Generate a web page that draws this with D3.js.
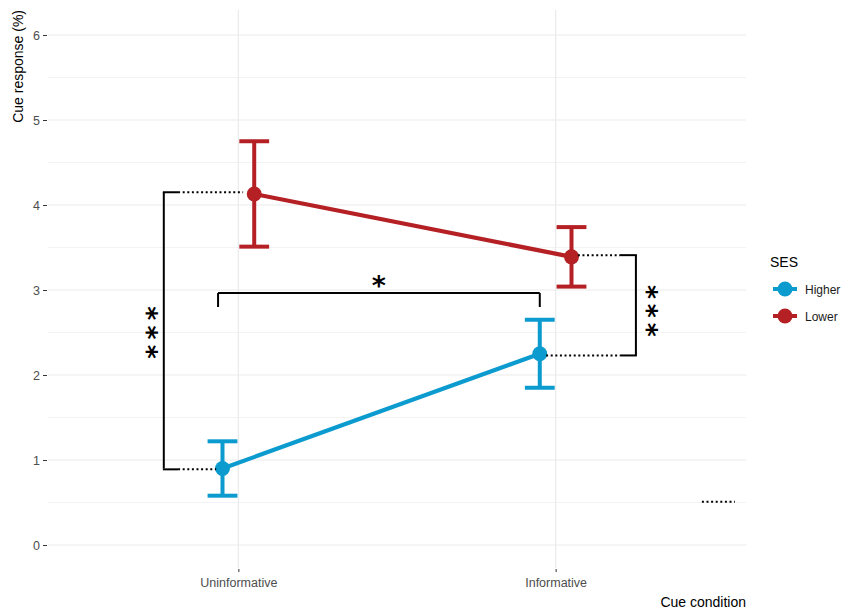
<!DOCTYPE html>
<html>
<head>
<meta charset="utf-8">
<script src="https://cdn.jsdelivr.net/npm/d3@7"></script>
<style>
  body { margin: 0; background: #fff; }
  text { font-family: Arial, "Liberation Sans", sans-serif; }
</style>
</head>
<body>
<svg id="chart" width="845" height="610"></svg>
<script>
// ---- data ----
const categories = ["Uninformative", "Informative"];
const groups = ["Higher", "Lower"];
const higherMean = [0.90, 2.25];
const higherLow  = [0.58, 1.85];
const higherHigh = [1.22, 2.65];
const lowerMean  = [4.13, 3.39];
const lowerLow   = [3.51, 3.04];
const lowerHigh  = [4.75, 3.74];
const yTicks = [0, 1, 2, 3, 4, 5, 6];
const yMinor = [0.5, 1.5, 2.5, 3.5, 4.5, 5.5];
const groupColors = ["#0B9BCF", "#B52025"];

const svg = d3.select("#chart");
const panel = {left: 48, right: 746, top: 10, bottom: 568};

// discrete x with ggplot-like expansion (0.6 each side) → continuous helper
const xc = d3.scaleLinear().domain([0.4, 2.6]).range([panel.left, panel.right]);
const xPos = i => xc(i + 1);
const y = d3.scaleLinear().domain([0, 6]).range([545, 35]);
const dodge = [-0.05, 0.05];

// grid
const g = svg.append("g");
g.selectAll(".minor").data(yMinor).enter().append("line")
  .attr("x1", panel.left).attr("x2", panel.right)
  .attr("y1", d => y(d)).attr("y2", d => y(d))
  .attr("stroke", "#f3f3f3").attr("stroke-width", 1);
g.selectAll(".major").data(yTicks).enter().append("line")
  .attr("x1", panel.left).attr("x2", panel.right)
  .attr("y1", d => y(d)).attr("y2", d => y(d))
  .attr("stroke", "#ebebeb").attr("stroke-width", 1.2);
g.selectAll(".vmajor").data(categories).enter().append("line")
  .attr("x1", (d, i) => xPos(i)).attr("x2", (d, i) => xPos(i))
  .attr("y1", panel.top).attr("y2", panel.bottom)
  .attr("stroke", "#ebebeb").attr("stroke-width", 1.2);

// y axis
const yAxis = d3.axisLeft(y).tickValues(yTicks).tickFormat(d3.format("d")).tickSize(4).tickPadding(3);
const ya = svg.append("g").attr("transform", `translate(${panel.left - 1},0)`).call(yAxis);
ya.select(".domain").remove();
ya.selectAll(".tick line").attr("stroke", "#333").attr("stroke-width", 1);
ya.selectAll(".tick text").attr("fill", "#4d4d4d").style("font-size", "12.5px")
  .style("font-family", "Arial, 'Liberation Sans', sans-serif");

// x axis
const xBand = d3.scalePoint().domain(categories).range([xPos(0), xPos(1)]);
const xAxis = d3.axisBottom(xBand).tickSize(3).tickPadding(6);
const xa = svg.append("g").attr("transform", `translate(0,${panel.bottom + 1})`).call(xAxis);
xa.select(".domain").remove();
xa.selectAll(".tick line").attr("stroke", "#333").attr("stroke-width", 1);
xa.selectAll(".tick text").attr("fill", "#4d4d4d").style("font-size", "12.5px")
  .style("font-family", "Arial, 'Liberation Sans', sans-serif");

// axis titles
svg.append("text").attr("x", panel.right).attr("y", 607).attr("text-anchor", "end")
  .style("font-size", "14px").attr("fill", "#000").text("Cue condition");
svg.append("text").attr("transform", "rotate(-90)").attr("x", -10).attr("y", 23)
  .attr("text-anchor", "end")
  .style("font-size", "14px").attr("fill", "#000").text("Cue response (%)");

// series
const series = [
  {name: groups[0], mean: higherMean, lo: higherLow, hi: higherHigh, color: groupColors[0], dx: dodge[0]},
  {name: groups[1], mean: lowerMean, lo: lowerLow, hi: lowerHigh, color: groupColors[1], dx: dodge[1]}
];
const capHalf = 0.047;
const line = d3.line().x(d => xc(d.x)).y(d => y(d.v));
series.forEach(s => {
  const pts = s.mean.map((v, i) => ({x: i + 1 + s.dx, v, lo: s.lo[i], hi: s.hi[i]}));
  const sg = svg.append("g");
  sg.append("path").datum(pts).attr("d", line).attr("fill", "none")
    .attr("stroke", s.color).attr("stroke-width", 4.2);
  pts.forEach(p => {
    sg.append("line").attr("x1", xc(p.x)).attr("x2", xc(p.x))
      .attr("y1", y(p.lo)).attr("y2", y(p.hi)).attr("stroke", s.color).attr("stroke-width", 4);
    [p.lo, p.hi].forEach(v => sg.append("line")
      .attr("x1", xc(p.x - capHalf)).attr("x2", xc(p.x + capHalf))
      .attr("y1", y(v)).attr("y2", y(v)).attr("stroke", s.color).attr("stroke-width", 4));
  });
  sg.selectAll("circle").data(pts).enter().append("circle")
    .attr("cx", d => xc(d.x)).attr("cy", d => y(d.v)).attr("r", 7.5).attr("fill", s.color);
});

// annotations
const ann = svg.append("g").attr("stroke", "#000").attr("fill", "none");
function seg(x1, y1, x2, y2, dotted) {
  ann.append("line").attr("x1", xc(x1)).attr("x2", xc(x2)).attr("y1", y(y1)).attr("y2", y(y2))
    .attr("stroke-width", 2).attr("stroke-dasharray", dotted ? "2,2.6" : null);
}
const starSize = 27;
const starFont = "'DejaVu Sans', sans-serif";
// single star
function star(xv, yv) {
  svg.append("text").attr("x", xc(xv)).attr("y", y(yv) + 0.56 * starSize)
    .attr("text-anchor", "middle").style("font-size", starSize + "px").style("font-weight", "bold")
    .style("font-family", starFont).attr("fill", "#000").text("*");
}
// vertical stack of three stars as one rotated text; yTop/yBot are centres of first/last star
function starColumn(xv, yTop, yBot) {
  const step = (y(yBot) - y(yTop)) / 2;           // px between star centres
  const adv = 0.5 * starSize;                     // glyph advance
  svg.append("text")
    .attr("transform", `translate(${xc(xv) - 0.485 * starSize},${y(yTop)}) rotate(90)`)
    .attr("x", -adv / 2).attr("y", 0)
    .style("font-size", starSize + "px").style("font-weight", "bold")
    .style("font-family", starFont).style("letter-spacing", (step - adv) + "px")
    .attr("fill", "#000").text("***");
}
// left bracket (Higher vs Lower, Uninformative)
const lb = 0.765, lt = 0.81;
seg(lb, higherMean[0], lb, lowerMean[0] + 0.02, false);
seg(lb - 0.003, lowerMean[0] + 0.02, lt, lowerMean[0] + 0.02, false);
seg(lb - 0.003, higherMean[0] - 0.01, lt, higherMean[0] - 0.01, false);
seg(lt, lowerMean[0] + 0.02, 1 + dodge[1] - 0.035, lowerMean[0] + 0.02, true);
seg(lt, higherMean[0] - 0.01, 1 + dodge[0] - 0.02, higherMean[0] - 0.01, true);
starColumn(0.725, 2.73, 2.29);
// middle bracket (Higher: Uninformative vs Informative)
const mb = 2.965, mt = 2.8;
seg(0.936, mt, 0.936, mb, false);
seg(0.936, mb, 1.95, mb, false);
seg(1.95, mb, 1.95, mt, false);
star(1.443, 3.12);
// right bracket (Higher vs Lower, Informative)
const rb = 2.253, rt = 2.203;
seg(2 + dodge[1] + 0.02, lowerMean[1] + 0.02, rt, lowerMean[1] + 0.02, true);
seg(2 + dodge[0] + 0.02, higherMean[1] - 0.02, rt, higherMean[1] - 0.02, true);
seg(rt, lowerMean[1] + 0.02, rb + 0.003, lowerMean[1] + 0.02, false);
seg(rt, higherMean[1] - 0.02, rb + 0.003, higherMean[1] - 0.02, false);
seg(rb, lowerMean[1] + 0.02, rb, higherMean[1] - 0.02, false);
starColumn(2.30, 2.98, 2.55);
// stray dotted line
seg(2.461, 0.51, 2.565, 0.51, true);

// legend
const lg = svg.append("g").attr("transform", "translate(770,0)");
lg.append("text").attr("x", 0).attr("y", 267).style("font-size", "14px").attr("fill", "#000").text("SES");
series.forEach((s, i) => {
  const cy = 289 + i * 27;
  lg.append("line").attr("x1", 3).attr("x2", 27).attr("y1", cy).attr("y2", cy)
    .attr("stroke", s.color).attr("stroke-width", 4);
  lg.append("circle").attr("cx", 15).attr("cy", cy).attr("r", 7.5).attr("fill", s.color);
  lg.append("text").attr("x", 35).attr("y", cy + 4.5).style("font-size", "12px")
    .attr("fill", "#1a1a1a").text(s.name);
});
</script>
</body>
</html>
